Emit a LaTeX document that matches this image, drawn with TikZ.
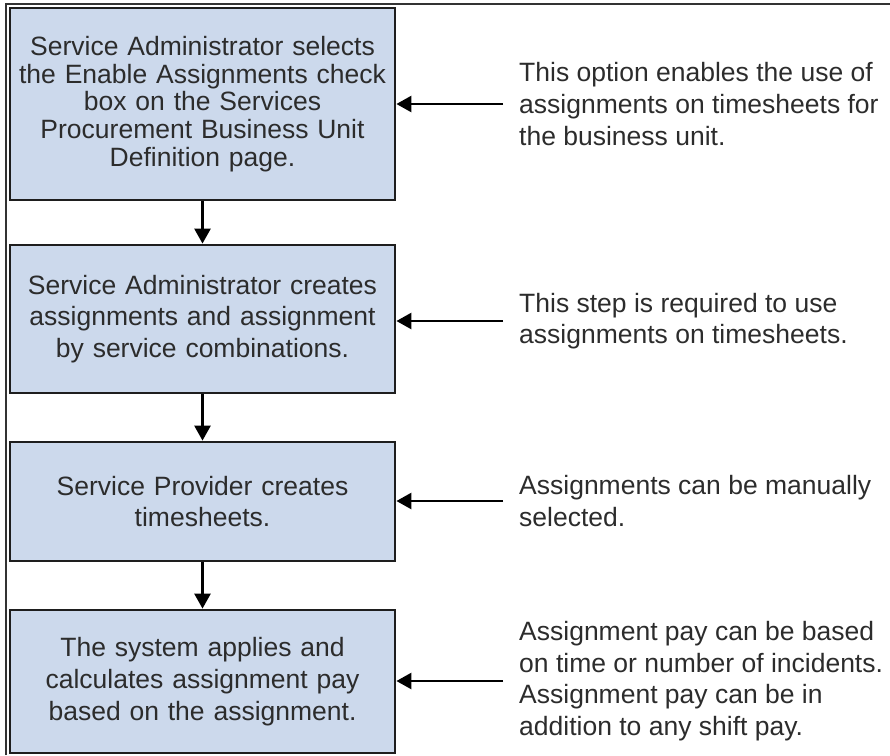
\documentclass[tikz,border=0pt]{standalone}
\usepackage{fontspec}
\setmainfont{Liberation Sans}
\usetikzlibrary{arrows.meta}
\definecolor{boxfill}{HTML}{CCD9EC}
\definecolor{boxline}{HTML}{1E1E1E}
\definecolor{txt}{HTML}{2C2C2C}
\begin{document}
\begin{tikzpicture}[x=1pt,y=-1pt]
\tikzset{
  stepbox/.style={draw=boxline, line width=2.8pt, fill=boxfill, minimum width=385pt,
    inner sep=0pt, text width=380pt, align=center, text=txt,
    font=\fontsize{26.5}{31.7}\selectfont},
  note/.style={anchor=west, inner sep=0pt, align=left, text=txt,
    font=\fontsize{26.5}{31.7}\selectfont},
  arr/.style={line width=2.6pt, draw=black, -{Triangle[length=15pt,width=16pt]}},
  frame/.style={line width=1.6pt, draw=black!80}
}
\useasboundingbox (0,0) rectangle (890,755);
\draw[frame] (6,755) -- (6,4) -- (890,4);

\node[stepbox, minimum height=192pt, font=\fontsize{26.5}{27.8}\selectfont] (b1) at (202.5,104)
  {Service Administrator selects\\the Enable Assignments check\\box on the Services\\Procurement Business Unit\\Definition page.};
\node[stepbox, minimum height=148pt] (b2) at (202.5,319)
  {Service Administrator creates\\assignments and assignment\\by service combinations.};
\node[stepbox, minimum height=119pt] (b3) at (202.5,501.5)
  {Service Provider creates\\timesheets.};
\node[stepbox, minimum height=143pt] (b4) at (202.5,681.5)
  {The system applies and\\calculates assignment pay\\based on the assignment.};

\node[note] (n1) at (519,104) {This option enables the use of\\assignments on timesheets for\\the business unit.};
\node[note] (n2) at (519,321) {This step is required to use\\assignments on timesheets.};
\node[note] (n3) at (519,501) {Assignments can be manually\\selected.};
\node[note] (n4) at (519,681) {Assignment pay can be based\\on time or number of incidents.\\Assignment pay can be in\\addition to any shift pay.};

\draw[arr] (b1.south) -- (b2.north);
\draw[arr] (b2.south) -- (b3.north);
\draw[arr] (b3.south) -- (b4.north);

\draw[arr] ([xshift=-16pt]n1.west) -- (n1.west -| b1.east);
\draw[arr] ([xshift=-16pt]n2.west) -- (n2.west -| b2.east);
\draw[arr] ([xshift=-16pt]n3.west) -- (n3.west -| b3.east);
\draw[arr] ([xshift=-16pt]n4.west) -- (n4.west -| b4.east);
\end{tikzpicture}
\end{document}
